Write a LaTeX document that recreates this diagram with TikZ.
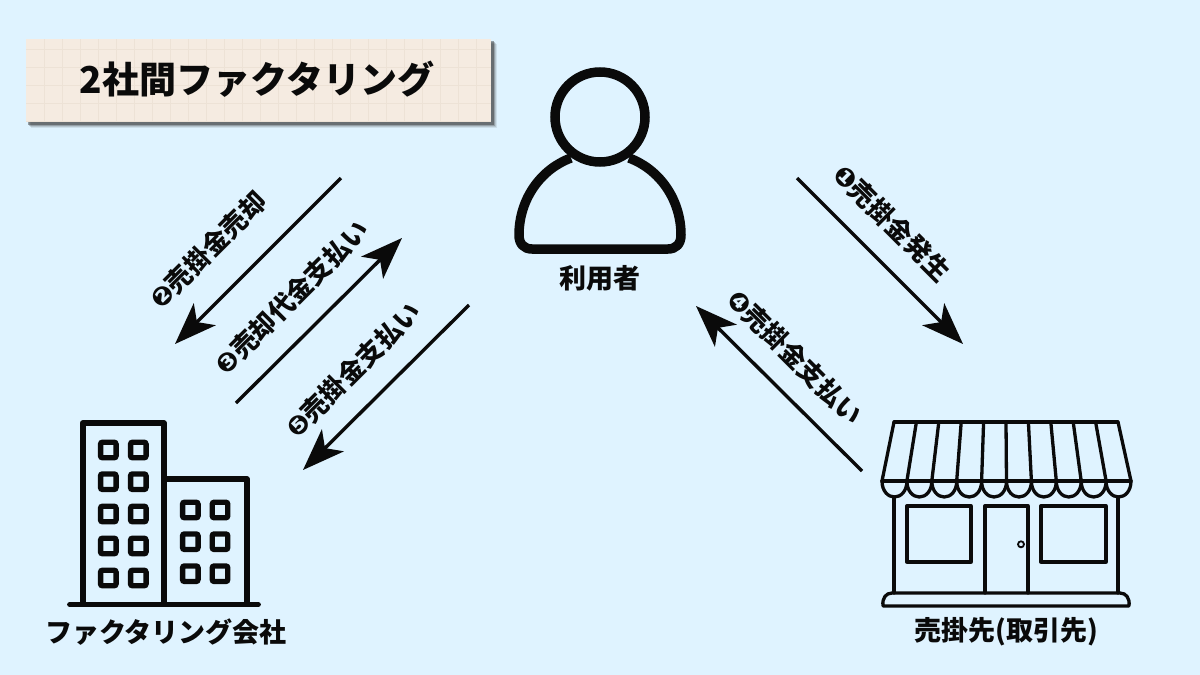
\documentclass[tikz,border=0pt]{standalone}
\usepackage{fontspec}
\setmainfont{Noto Sans CJK JP}
\newfontfamily\dingfont{DejaVu Sans}
\usetikzlibrary{arrows.meta}
\definecolor{bgblue}{HTML}{DFF3FF}
\definecolor{paper}{HTML}{F5EBE1}
\definecolor{papergrid}{HTML}{EDE2D6}
\definecolor{ink}{HTML}{0A0A0A}
\newcommand{\num}[1]{{\dingfont #1}}
\tikzset{
  lab/.style={font=\fontsize{27}{27}\selectfont\bfseries,text=ink,inner sep=0pt},
  steplab/.style={font=\fontsize{26}{26}\selectfont\bfseries,text=ink,inner sep=0pt},
  flow/.style={draw=ink,line width=3.4pt,-{Stealth[length=42pt,width=31pt,inset=11pt]}},
  icon/.style={draw=ink,line width=3.3pt,line join=round,line cap=round},
  bld/.style={draw=ink,line width=5.8pt,line join=round,line cap=round},
  win/.style={draw=ink,line width=5.4pt,rounded corners=2pt,minimum size=15.5pt,inner sep=0pt,shape=rectangle},
}
\begin{document}
\begin{tikzpicture}[x=1pt,y=-1pt]
\useasboundingbox (0,0) rectangle (1200,675);
\fill[bgblue] (0,0) rectangle (1200,675);

% title card
\foreach \d/\o in {6/.10,5/.15,4/.25,3/.45}{
  \fill[black!80,opacity=\o] (26+\d-1,39+\d-1) rectangle (491+\d,122+\d);
}
\fill[paper] (26,39) rectangle (491,122);
\begin{scope}
\clip (26,39) rectangle (491,122);
\foreach \x in {44,62,...,490}{\draw[papergrid,line width=.7pt] (\x,39) -- (\x,122);}
\foreach \y in {49,67,...,121}{\draw[papergrid,line width=.7pt] (26,\y) -- (491,\y);}
\end{scope}
\node[inner sep=0pt,text=ink,font=\fontsize{37}{37}\selectfont\bfseries] (title) at (257,79) {2社間ファクタリング};

% person
\draw[draw=ink,line width=9.5pt] (600,117) circle (45);
\draw[draw=ink,line width=9.5pt,line join=round]
  (571,158) .. controls (541,169) and (519,199) .. (519,235)
  .. controls (519,244) and (524,249) .. (532,249) -- (668,249)
  .. controls (676,249) and (681,244) .. (681,235)
  .. controls (681,199) and (659,169) .. (629,158);
\node[lab] (user) at (600,278) {利用者};

% shop
\draw[icon] (894,422) -- (1118,422);
\draw[icon] (882,481) -- (1131,481);
\foreach \i in {0,...,10}{
  \draw[icon] (894+22.4*\i,422) -- (882+24.9*\i,481);
}
\foreach \i in {0,...,9}{
  \draw[icon] (882+24.9*\i,481) .. controls (882+24.9*\i,491) and (888+24.9*\i,497) .. (894.45+24.9*\i,497)
     .. controls (901+24.9*\i,497) and (882+24.9*\i+24.9,491) .. (882+24.9*\i+24.9,481);
}
\draw[icon] (894,497) -- (894,593);
\draw[icon] (1118,497) -- (1118,593);
\draw[icon] (907,506) rectangle (971,562);
\draw[icon] (1041,506) rectangle (1106,562);
\draw[icon] (985,593) -- (985,506) -- (1028,506) -- (1028,593);
\draw[draw=ink,line width=1.8pt] (1021,544.3) circle (3);
\draw[icon] (883,606) .. controls (882,598) and (886,593) .. (892,593) -- (1120,593)
  .. controls (1126,593) and (1130,598) .. (1129,606) -- cycle;
\node[lab] (shop) at (1006,632) {売掛先(取引先)};

% building
\draw[bld] (82.7,604) -- (82.7,423) -- (164,423) -- (164,604);
\draw[bld] (164,479) -- (246.7,479) -- (246.7,604);
\draw[bld] (70,604.5) -- (258,604.5);
\foreach \x in {108.3,138.3}{
  \foreach \y in {450,481.7,514,546,578}{
    \node[win] at (\x,\y) {};
  }
}
\foreach \x in {190.3,220}{
  \foreach \y in {510,541.7,573.7}{
    \node[win] at (\x,\y) {};
  }
}
\node[lab] (firm) at (166,632) {ファクタリング会社};

% flows
\coordinate (a1s) at (797,178); \coordinate (a1e) at (963,344);
\coordinate (a2s) at (341,178); \coordinate (a2e) at (175,344);
\coordinate (a3s) at (236,403); \coordinate (a3e) at (402,238);
\coordinate (a4s) at (862,471); \coordinate (a4e) at (696,306);
\coordinate (a5s) at (469,305); \coordinate (a5e) at (303,470);
\draw[flow] (a1s) -- (a1e);
\draw[flow] (a2s) -- (a2e);
\draw[flow] (a3s) -- (a3e);
\draw[flow] (a4s) -- (a4e);
\draw[flow] (a5s) -- (a5e);

\node[steplab,rotate=-45] (l1) at (892,223) {\num{❶}売掛金発生};
\node[steplab,rotate=45] (l2) at (208,250) {\num{❷}売掛金売却};
\node[steplab,rotate=45] (l3) at (292,297) {\num{❸}売却代金支払い};
\node[steplab,rotate=-45] (l4) at (795,357) {\num{❹}売掛金支払い};
\node[steplab,rotate=45] (l5) at (353,370) {\num{❺}売掛金支払い};
\end{tikzpicture}
\end{document}
